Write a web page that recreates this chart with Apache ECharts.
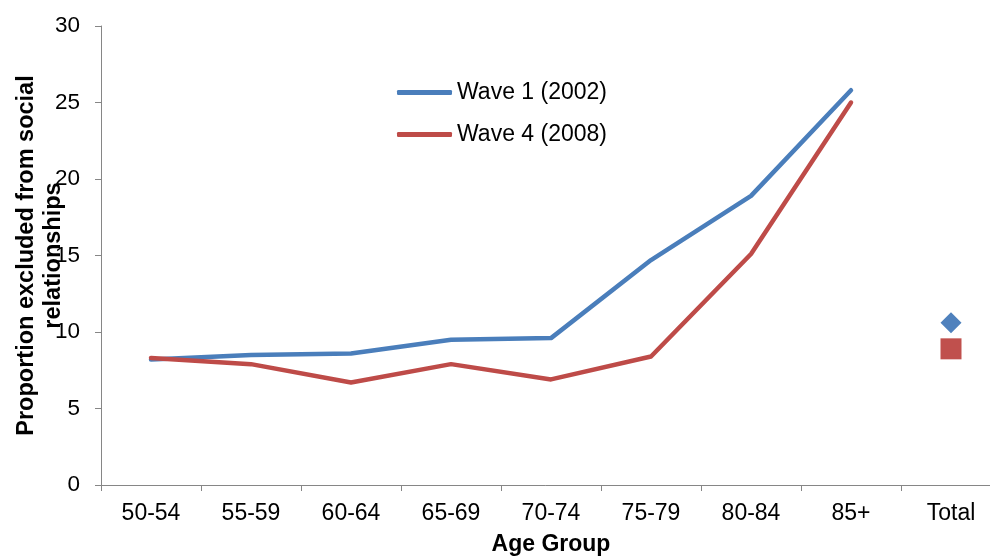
<!DOCTYPE html>
<html>
<head>
<meta charset="utf-8">
<script src="https://cdn.jsdelivr.net/npm/echarts@6/dist/echarts.min.js"></script>
<style>
  html, body { margin: 0; padding: 0; background: #ffffff; }
  #chart { width: 990px; height: 560px; }
</style>
</head>
<body>
<div id="chart"></div>
<script>
// Age groups along the x axis (the last one holds the overall totals)
const categories = ['50-54', '55-59', '60-64', '65-69', '70-74', '75-79', '80-84', '85+', 'Total'];
const seriesNames = ['Wave 1 (2002)', 'Wave 4 (2008)'];
// Proportion excluded from social relationships, by age group
const wave1 = [8.2, 8.5, 8.6, 9.5, 9.6, 14.7, 18.9, 25.8];
const wave4 = [8.3, 7.9, 6.7, 7.9, 6.9, 8.4, 15.1, 25.0];
// Overall totals
const wave1Total = 10.6;
const wave4Total = 8.9;
const yTicks = { min: 0, max: 30, interval: 5 };

const blue = '#4A7EBB';
const red = '#BE4B48';
const axisGray = '#868686';
const font = '"Liberation Sans", Arial, sans-serif';

const chart = echarts.init(document.getElementById('chart'));
chart.setOption({
  backgroundColor: '#ffffff',
  animation: false,
  textStyle: { fontFamily: font },
  grid: { left: 101, top: 26, width: 900, height: 459, containLabel: false, outerBoundsMode: 'none' },
  legend: {
    data: seriesNames,
    orient: 'vertical',
    left: 392,
    top: 76,
    itemGap: 19,
    itemWidth: 55,
    itemHeight: 5,
    icon: 'roundRect',
    textStyle: { fontSize: 23, color: '#000', fontFamily: font }
  },
  xAxis: {
    type: 'category',
    data: categories,
    boundaryGap: true,
    name: 'Age Group',
    nameLocation: 'middle',
    nameGap: 48,
    nameMoveOverlap: false,
    nameTextStyle: { fontSize: 23, fontWeight: 'bold', color: '#000', fontFamily: font },
    axisLine: { lineStyle: { color: axisGray, width: 1 } },
    axisTick: { show: true, length: 6, lineStyle: { color: axisGray } },
    axisLabel: { fontSize: 23, color: '#000', margin: 17, fontFamily: font, interval: 0 },
    splitLine: { show: false }
  },
  yAxis: {
    type: 'value',
    min: yTicks.min,
    max: yTicks.max,
    interval: yTicks.interval,
    name: 'Proportion excluded from social\nrelationships',
    nameLocation: 'middle',
    nameGap: 34,
    nameRotate: 90,
    nameMoveOverlap: false,
    nameTextStyle: { fontSize: 23.5, fontWeight: 'bold', color: '#000', fontFamily: font, lineHeight: 27, align: 'center' },
    axisLine: { show: true, lineStyle: { color: axisGray, width: 1 } },
    axisTick: { show: true, length: 6, lineStyle: { color: axisGray } },
    axisLabel: { fontSize: 22.5, color: '#000', margin: 21, fontFamily: font },
    splitLine: { show: false }
  },
  series: [
    {
      name: seriesNames[0],
      type: 'line',
      data: wave1,
      symbol: 'none',
      color: blue,
      lineStyle: { color: blue, width: 4.5, cap: 'round', join: 'round' }
    },
    {
      name: seriesNames[1],
      type: 'line',
      data: wave4,
      symbol: 'none',
      color: red,
      lineStyle: { color: red, width: 4.5, cap: 'round', join: 'round' }
    },
    {
      name: 'Wave 1 total',
      type: 'scatter',
      data: [['Total', wave1Total]],
      symbol: 'diamond',
      symbolSize: 21,
      itemStyle: { color: '#4F81BD', opacity: 1 }
    },
    {
      name: 'Wave 4 total',
      type: 'scatter',
      data: [['Total', wave4Total]],
      symbol: 'rect',
      symbolSize: 21,
      itemStyle: { color: '#C0504D', opacity: 1 }
    }
  ]
});
</script>
</body>
</html>
